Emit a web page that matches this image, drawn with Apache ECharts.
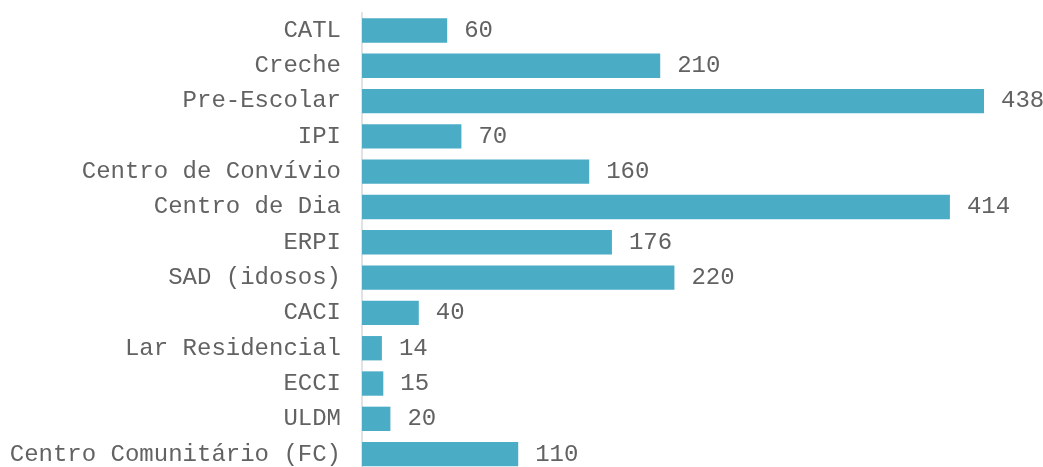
<!DOCTYPE html>
<html><head><meta charset="utf-8">
<script src="https://cdn.jsdelivr.net/npm/echarts@6/dist/echarts.min.js"></script>
<style>html,body{margin:0;padding:0;background:#fff;overflow:hidden}#c{width:1043px;height:472px}</style>
</head><body><div id="c"></div>
<script>
const categories = ["CATL","Creche","Pre-Escolar","IPI","Centro de Convívio","Centro de Dia","ERPI","SAD (idosos)","CACI","Lar Residencial","ECCI","ULDM","Centro Comunitário (FC)"];
const values = [60,210,438,70,160,414,176,220,40,14,15,20,110];
const chart = echarts.init(document.getElementById('c'));
const font = "'Liberation Mono','Courier New',monospace";
chart.setOption({
  animation:false,
  grid:{left:362,width:622,top:12.8,height:459,containLabel:false,outerBoundsMode:'none'},
  xAxis:{type:'value',min:0,max:438,show:false},
  yAxis:{type:'category',data:categories,inverse:true,
    axisLine:{show:true,lineStyle:{color:'#d9d9d9',width:1.5}},
    axisTick:{show:false},
    axisLabel:{color:'#626262',fontFamily:font,fontSize:24,margin:21}},
  series:[{type:'bar',data:values,barCategoryGap:'31%',
    itemStyle:{color:'#4BACC6'},
    label:{show:true,position:'right',distance:17,color:'#626262',fontFamily:font,fontSize:24}}]
});
</script></body></html>
